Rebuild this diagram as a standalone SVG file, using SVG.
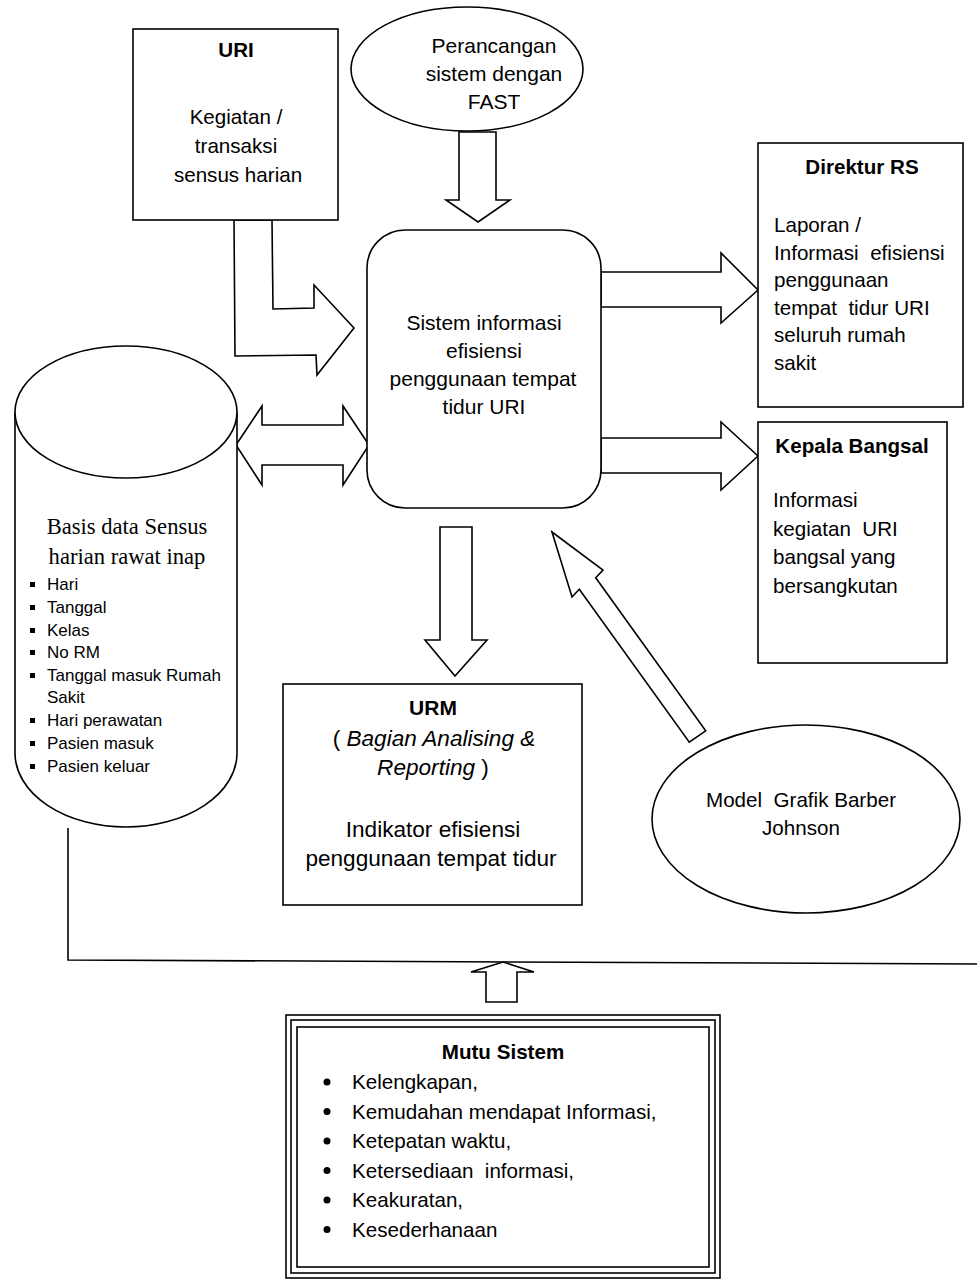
<svg xmlns="http://www.w3.org/2000/svg" width="977" height="1280" viewBox="0 0 977 1280">
  <style>
    .shape { fill: #fff; stroke: #000; stroke-width: 1.6; }
    .line { fill: none; stroke: #000; stroke-width: 1.6; }
    .arrow { fill: #fff; stroke: #000; stroke-width: 1.6; stroke-linejoin: miter; }
    text { font-family: "Liberation Sans", Arial, sans-serif; font-size: 20.6px; fill: #000; white-space: pre; }
    .c { text-anchor: middle; }
    .b { font-weight: bold; }
    .i { font-style: italic; }
    .big { font-size: 21px; }
    .large { font-size: 22.6px; }
    .serif { font-family: "Liberation Serif", "Times New Roman", serif; font-size: 22.6px; }
    .small { font-size: 17px; }
  </style>

  <!-- connectors: block arrows and the feedback line -->
  <g id="connectors">
    <!-- FAST design into the system -->
    <polygon class="arrow" points="459,132 496,132 496,200 510,200 478,222 446,200 459,200"/>
    <!-- URI census activity into the system (bent arrow) -->
    <polygon class="arrow" points="234,220 235,356 316,355 317,375 354,328 314,285 314,308 273,309 272,220"/>
    <!-- database <-> system -->
    <polygon class="arrow" points="236,445 262,406 262,425 343,425 343,406 369,445 343,485 343,465 262,465 262,485"/>
    <!-- system to Direktur RS -->
    <polygon class="arrow" points="601,272 721,272 721,253 758,290 721,323 721,307 601,307"/>
    <!-- system to Kepala Bangsal -->
    <polygon class="arrow" points="601,438 721,438 721,422 758,456 721,490 721,473 601,473"/>
    <!-- system to URM -->
    <polygon class="arrow" points="440,527 472,527 472,640 487,640 455,676 425,640 440,640"/>
    <!-- Barber Johnson model into the system -->
    <polygon class="arrow" points="552,532 603,570 595.7,577.8 705.7,730.8 689.3,742.2 579.3,589.2 572,597"/>
    <!-- feedback line from the database round to the quality box -->
    <polyline class="line" points="68,828 68,960 977,964"/>
    <!-- quality feeding the loop -->
    <polygon class="arrow" points="503,962 534,972 517,972 517,1002 486,1002 486,972 471,972"/>
  </g>

  <g id="uri">
    <rect class="shape" x="133" y="29" width="205" height="191"/>
    <text class="c b" x="236" y="57">URI</text>
    <text class="c" x="236" y="124">Kegiatan /</text>
    <text class="c" x="236" y="153">transaksi</text>
    <text class="c" x="238" y="182">sensus harian</text>
  </g>

  <g id="fast">
    <ellipse class="shape" cx="467" cy="69" rx="116" ry="62"/>
    <text class="c big" x="494" y="53">Perancangan</text>
    <text class="c big" x="494" y="81">sistem dengan</text>
    <text class="c big" x="494" y="109">FAST</text>
  </g>

  <g id="system">
    <rect class="shape" x="367" y="230" width="234" height="278" rx="38" ry="38"/>
    <text class="c big" x="484" y="330">Sistem informasi</text>
    <text class="c big" x="484" y="358">efisiensi</text>
    <text class="c big" x="483" y="386">penggunaan tempat</text>
    <text class="c big" x="484" y="414">tidur URI</text>
  </g>

  <g id="direktur">
    <rect class="shape" x="758" y="143" width="205" height="264"/>
    <text class="c b" x="862" y="174">Direktur RS</text>
    <text x="774" y="232">Laporan /</text>
    <text x="774" y="259.5">Informasi  efisiensi</text>
    <text x="774" y="287">penggunaan</text>
    <text x="774" y="314.5">tempat  tidur URI</text>
    <text x="774" y="342">seluruh rumah</text>
    <text x="774" y="369.5">sakit</text>
  </g>

  <g id="kepala">
    <rect class="shape" x="758" y="422" width="189" height="241"/>
    <text class="c b" x="852" y="453">Kepala Bangsal</text>
    <text x="773" y="507">Informasi</text>
    <text x="773" y="535.5">kegiatan  URI</text>
    <text x="773" y="564">bangsal yang</text>
    <text x="773" y="592.5">bersangkutan</text>
  </g>

  <g id="database">
    <path class="shape" d="M15,412 L15,753 A111,74 0 0 0 237,753 L237,412"/>
    <ellipse class="shape" cx="126" cy="412" rx="111" ry="66"/>
    <text class="c serif" x="127" y="534">Basis data Sensus</text>
    <text class="c serif" x="127" y="564">harian rawat inap</text>
    <g>
      <rect x="30" y="582" width="5" height="5"/>
      <text class="small" x="47" y="590">Hari</text>
      <rect x="30" y="605" width="5" height="5"/>
      <text class="small" x="47" y="613">Tanggal</text>
      <rect x="30" y="628" width="5" height="5"/>
      <text class="small" x="47" y="636">Kelas</text>
      <rect x="30" y="650" width="5" height="5"/>
      <text class="small" x="47" y="658">No RM</text>
      <rect x="30" y="673" width="5" height="5"/>
      <text class="small" x="47" y="681">Tanggal masuk Rumah</text>
      <text class="small" x="47" y="703">Sakit</text>
      <rect x="30" y="718" width="5" height="5"/>
      <text class="small" x="47" y="726">Hari perawatan</text>
      <rect x="30" y="741" width="5" height="5"/>
      <text class="small" x="47" y="749">Pasien masuk</text>
      <rect x="30" y="764" width="5" height="5"/>
      <text class="small" x="47" y="772">Pasien keluar</text>
    </g>
  </g>

  <g id="urm">
    <rect class="shape" x="283" y="684" width="299" height="221"/>
    <text class="c b big" x="433" y="715">URM</text>
    <text class="c large" x="434" y="746">( <tspan class="i">Bagian Analising &amp;</tspan></text>
    <text class="c large" x="433" y="775"><tspan class="i">Reporting</tspan> )</text>
    <text class="c large" x="433" y="837">Indikator efisiensi</text>
    <text class="c large" x="431" y="866">penggunaan tempat tidur</text>
  </g>

  <g id="barber-johnson">
    <ellipse class="shape" cx="806" cy="819" rx="154" ry="94"/>
    <text class="c" x="801" y="807">Model  Grafik Barber</text>
    <text class="c" x="801" y="835">Johnson</text>
  </g>

  <g id="mutu-sistem">
    <rect class="shape" x="286" y="1015" width="434" height="263" stroke-width="1.2"/>
    <rect class="line" x="291" y="1020" width="424" height="253" stroke-width="3"/>
    <rect class="line" x="297" y="1027" width="412" height="240" stroke-width="1.2"/>
    <text class="c b" x="503" y="1059">Mutu Sistem</text>
    <circle cx="327" cy="1082" r="3.5"/>
    <text x="352" y="1089">Kelengkapan,</text>
    <circle cx="327" cy="1111.5" r="3.5"/>
    <text x="352" y="1118.5">Kemudahan mendapat Informasi,</text>
    <circle cx="327" cy="1141" r="3.5"/>
    <text x="352" y="1148">Ketepatan waktu,</text>
    <circle cx="327" cy="1170.5" r="3.5"/>
    <text x="352" y="1177.5">Ketersediaan  informasi,</text>
    <circle cx="327" cy="1200" r="3.5"/>
    <text x="352" y="1207">Keakuratan,</text>
    <circle cx="327" cy="1229.5" r="3.5"/>
    <text x="352" y="1236.5">Kesederhanaan</text>
  </g>
</svg>
